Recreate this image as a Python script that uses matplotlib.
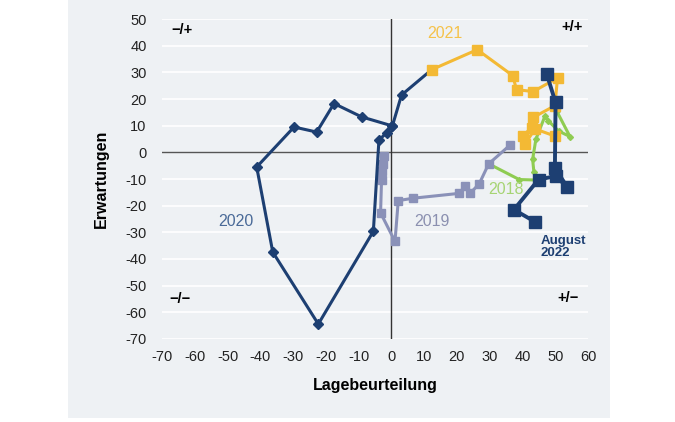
import matplotlib
matplotlib.use("Agg")
import matplotlib.pyplot as plt
from matplotlib.patches import Rectangle

plt.rcParams['font.family'] = ['Liberation Sans', 'DejaVu Sans']

# ---- data (Lagebeurteilung = x, Erwartungen = y) ----
x2018 = [50.4, 54.5, 51.0, 47.9, 46.9, 44.1, 43.1, 43.5, 44.8, 39.0, 29.7]
y2018 = [15.6, 5.9, 8.0, 11.8, 13.7, 4.9, -2.6, -7.5, -10.4, -10.2, -4.3]

x2019 = [36.2, 29.7, 26.8, 24.0, 22.5, 20.6, 6.7, 2.1, 1.1, -3.3, -3.0, -2.8, -2.6, -2.4]
y2019 = [2.7, -4.3, -11.8, -15.4, -12.8, -15.4, -17.2, -18.1, -33.4, -22.7, -10.2, -7.0, -4.5, -1.4]

x2020 = [0.3, -1.4, -3.8, -5.5, -22.3, -36.2, -41.1, -29.7, -22.8, -17.5, -9.1, 0.3, 3.1, 12.3]
y2020 = [9.9, 7.4, 4.6, -29.6, -64.4, -37.4, -5.5, 9.5, 7.6, 18.3, 13.3, 9.9, 21.5, 31.0]

x2021 = [12.3, 26.2, 37.0, 38.2, 43.3, 50.7, 49.9, 43.3, 42.8, 40.1, 40.8, 43.8, 49.9]
y2021 = [31.0, 38.5, 28.8, 23.5, 22.8, 27.9, 17.5, 13.1, 9.3, 6.1, 3.1, 8.8, 6.1]

x2022 = [47.4, 50.1, 49.9, 53.7, 50.2, 44.9, 37.4, 43.9]
y2022 = [29.4, 18.7, -5.8, -13.1, -8.9, -10.2, -21.5, -26.1]

xticks = list(range(-70, 61, 10))
yticks = list(range(-70, 51, 10))

NAVY = '#1d3f72'
YELLOW = '#f3b934'
GRAY = '#8a91b8'
GREEN = '#8fcc52'
PANEL = '#eef1f4'

fig = plt.figure(figsize=(6.75, 4.22), dpi=100)
bg = Rectangle((68 / 675, 1 - 418 / 422), (610 - 68) / 675, 418 / 422,
               transform=fig.transFigure, facecolor=PANEL,
               edgecolor='none', zorder=-10)
fig.add_artist(bg)
ax = fig.add_axes([162 / 675, 1 - 339 / 422, (588 - 162) / 675, (339 - 19) / 422])
ax.set_zorder(5)
ax.set_facecolor(PANEL)
ax.set_xlim(-70, 60)
ax.set_ylim(-70, 50)
for s in ax.spines.values():
    s.set_visible(False)
ax.set_xticks(xticks)
ax.set_yticks(yticks)
ax.set_xticklabels([str(v) for v in xticks])
ax.set_yticklabels([str(v) for v in yticks])
ax.tick_params(length=0, labelsize=10.5, colors='#222222')
ax.tick_params(axis='y', pad=11)
ax.tick_params(axis='x', pad=8)
for v in yticks:
    if v != 0:
        ax.axhline(v, color='white', lw=1.2, zorder=1)
ax.axhline(0, color='#555555', lw=1.0, zorder=2)
ax.plot([0, 0], [-70, 50], color='#333333', lw=1.0, zorder=2)

ax.plot(x2018, y2018, color=GREEN, lw=2.2, marker='D', ms=3, zorder=3)
ax.plot(x2019, y2019, color=GRAY, lw=2.2, marker='s', ms=5.5, zorder=3)
ax.plot(x2020, y2020, color=NAVY, lw=2.2, marker='D', ms=5.5, zorder=4)
ax.plot(x2021, y2021, color=YELLOW, lw=2.2, marker='s', ms=6.5, zorder=5)
ax.plot(x2022, y2022, color=NAVY, lw=2.8, marker='s', ms=8, zorder=6)

ax.text(16.4, 44.4, '2021', color='#f5c24a', fontsize=11.5, ha='center', va='center')
ax.text(-47.4, -26.0, '2020', color='#4a6a98', fontsize=11.5, ha='center', va='center')
ax.text(12.3, -25.9, '2019', color='#8b90b0', fontsize=11.5, ha='center', va='center')
ax.text(35.0, -13.9, '2018', color='#a6d474', fontsize=11.5, ha='center', va='center', zorder=7)
ax.text(45.6, -35.5, 'August\n2022', color=NAVY, fontsize=9.5, fontweight='bold',
        ha='left', va='center', linespacing=0.95, zorder=7)

ax.text(-64, 46, '\u2212/+', fontsize=10.5, fontweight='bold', ha='center', va='center')
ax.text(55, 47, '+/+', fontsize=10.5, fontweight='bold', ha='center', va='center')
ax.text(-64.5, -55, '\u2212/\u2212', fontsize=10.5, fontweight='bold', ha='center', va='center')
ax.text(54, -54.6, '+/\u2212', fontsize=10.5, fontweight='bold', ha='center', va='center')

ax.set_xlabel('Lagebeurteilung', fontsize=11.5, fontweight='bold', labelpad=10)
ax.set_ylabel('Erwartungen', fontsize=11.5, fontweight='bold', labelpad=12)

fig.savefig('out.png', dpi=100)
